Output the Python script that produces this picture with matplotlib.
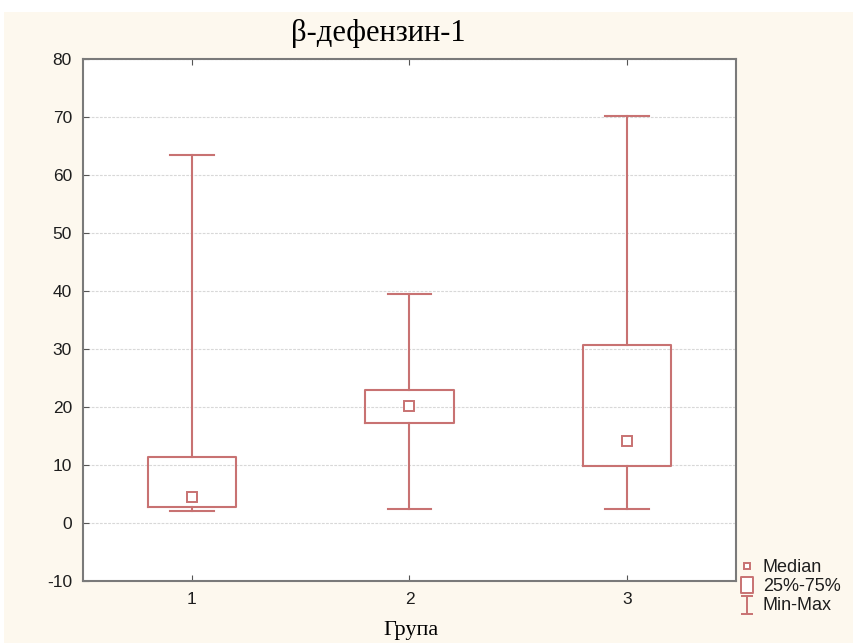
import matplotlib.pyplot as plt
from matplotlib.lines import Line2D
from matplotlib.patches import Rectangle
from matplotlib.path import Path

groups = [1, 2, 3]
group_labels = ["1", "2", "3"]
minimum = [2.1, 2.4, 2.5]
q25 = [2.8, 17.2, 9.9]
median = [4.4, 20.2, 14.1]
q75 = [11.4, 23.0, 30.7]
maximum = [63.5, 39.5, 70.2]

title = "β-дефензин-1"
xlabel = "Група"
legend_labels = ["Median", "25%-75%", "Min-Max"]

box_color = "#c87272"
bg_color = "#fdf8ee"

plt.rcParams["axes.unicode_minus"] = False

fig = plt.figure(figsize=(8.54, 6.43), dpi=100, facecolor=bg_color)
# white strip along the top and left edge of the screenshot
fig.patches.append(Rectangle((0, 1 - 12 / 643), 1, 12 / 643, transform=fig.transFigure,
                             facecolor="white", edgecolor="none", zorder=0))
fig.patches.append(Rectangle((0, 0), 4 / 854, 1, transform=fig.transFigure,
                             facecolor="white", edgecolor="none", zorder=0))

ax = fig.add_axes([83 / 854, 1 - 581 / 643, 653 / 854, 522 / 643])
ax.set_facecolor("white")

stats = []
for i in range(len(groups)):
    stats.append({
        "whislo": minimum[i], "q1": q25[i], "med": median[i],
        "q3": q75[i], "whishi": maximum[i], "fliers": [],
    })

line = dict(color=box_color, linewidth=1.5)
ax.bxp(stats, positions=groups, widths=0.405, capwidths=0.2,
       showfliers=False, boxprops=line, whiskerprops=line, capprops=line,
       medianprops=dict(linestyle="none"))
ax.plot(groups, median, linestyle="none", marker="s", markersize=7,
        markerfacecolor="white", markeredgecolor=box_color, markeredgewidth=1.4,
        zorder=4)

ax.set_xlim(0.5, 3.5)
ax.set_ylim(-10, 80)
ax.set_yticks(range(-10, 81, 10))
ax.set_xticks(groups)
ax.set_xticklabels(group_labels)
ax.yaxis.grid(True, color="#d8d8d8", linestyle=(0, (2.5, 1.2)), linewidth=0.8)
ax.set_axisbelow(True)

for s in ax.spines.values():
    s.set_color("#7a7a7a")
    s.set_linewidth(1.5)
ax.tick_params(direction="in", length=4, color="#555555", top=True,
               labelsize=12.5, pad=8, labelcolor="#1e1e1e")
for lab in ax.get_xticklabels() + ax.get_yticklabels():
    lab.set_fontfamily("Liberation Sans")

fig.text(378 / 854, 1 - 33 / 643, title, ha="center", va="center",
         fontsize=22, family="Liberation Serif")
fig.text(411 / 854, 1 - 630 / 643, xlabel, ha="center", va="center",
         fontsize=16, family="Liberation Serif")

# legend drawn by hand: small square, tall box, I-shaped range
box_icon = Path([(-0.69, -1), (0.69, -1), (0.69, 1), (-0.69, 1), (-0.69, -1)],
                [Path.MOVETO, Path.LINETO, Path.LINETO, Path.LINETO, Path.CLOSEPOLY])
range_icon = Path([(-0.68, 1), (0.68, 1), (0, 1), (0, -1), (-0.68, -1), (0.68, -1)],
                  [Path.MOVETO, Path.LINETO, Path.MOVETO, Path.LINETO,
                   Path.MOVETO, Path.LINETO])
icons = [("s", 5, 566), (box_icon, 11.5, 585), (range_icon, 13.5, 604.5)]
for i, (label, (marker, size, ypix)) in enumerate(zip(legend_labels, icons)):
    y = 1 - ypix / 643
    fig.add_artist(Line2D([747.5 / 854], [y], transform=fig.transFigure,
                          linestyle="none", marker=marker, markersize=size,
                          markerfacecolor="white" if i < 2 else "none",
                          markeredgecolor=box_color, markeredgewidth=1.4))
    fig.text(763 / 854, 1 - (567 + 19.5 * i) / 643, label, ha="left",
             va="center", fontsize=13, family="Liberation Sans", color="#1e1e1e")

fig.savefig("out.png", dpi=100, facecolor=bg_color)
